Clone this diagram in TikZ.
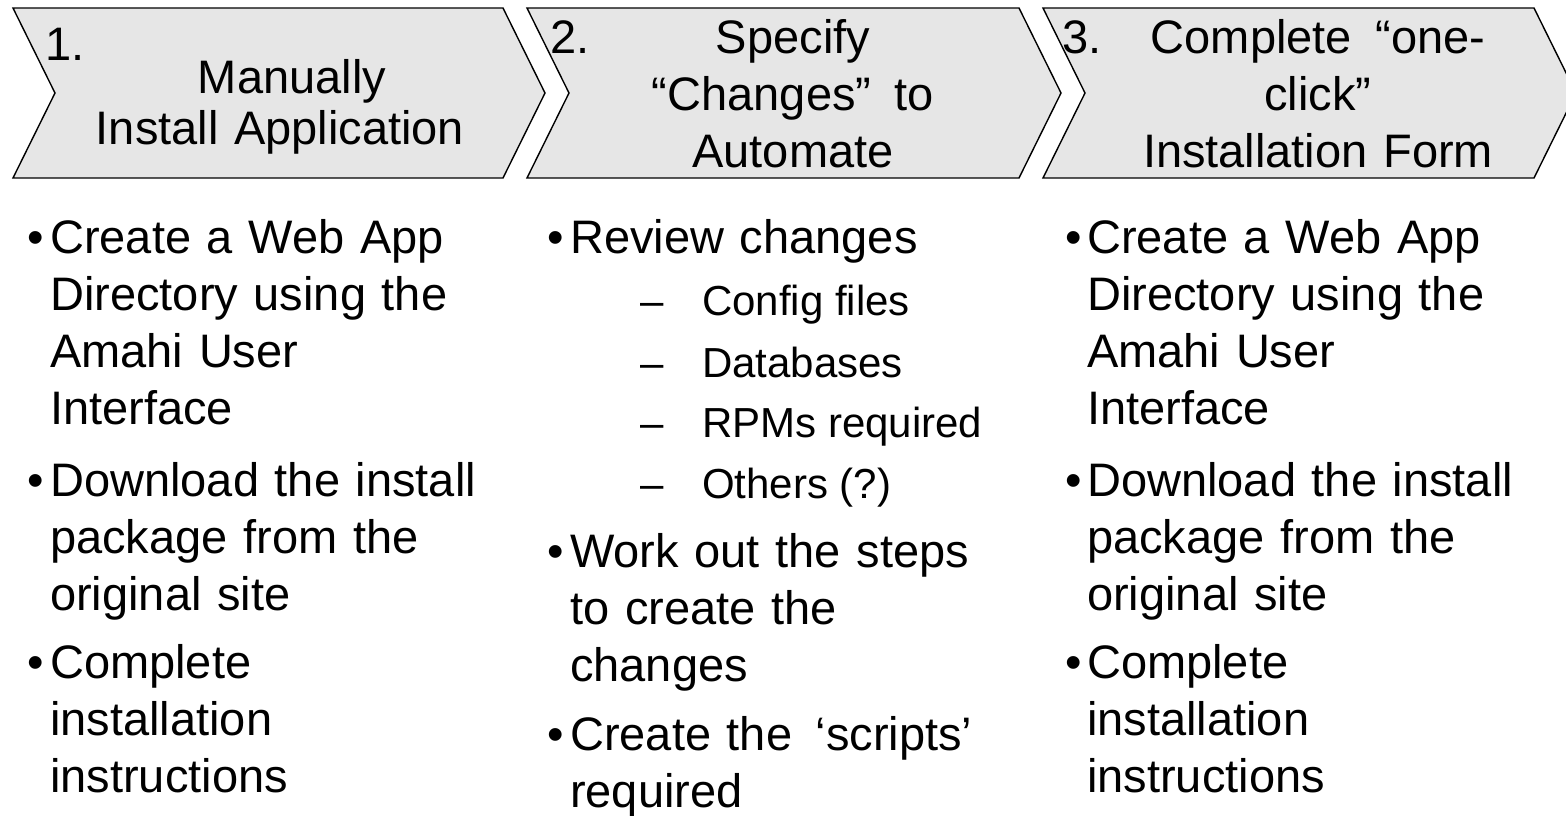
\documentclass[tikz,border=0pt]{standalone}
\usepackage{fontspec}
\setmainfont{Liberation Sans}
\usetikzlibrary{positioning}

\definecolor{chevgray}{HTML}{E6E6E6}

\tikzset{
	chevron/.style={fill=chevgray, draw=black, line width=1.4pt, line join=miter},
	steplabel/.style={anchor=base west, inner sep=0pt, font=\fontsize{47}{55}\selectfont},
	steptext/.style={anchor=base, inner sep=0pt, text width=470pt, align=center, font=\fontsize{47}{57}\selectfont},
	dot/.style={anchor=base west, inner sep=0pt},
	item/.style={anchor=base west, inner sep=0pt, text width=460pt, align=left, font=\fontsize{47}{57}\selectfont},
	subdash/.style={anchor=base west, inner sep=0pt, font=\fontsize{42}{61}\selectfont},
	subitem/.style={anchor=base west, inner sep=0pt, font=\fontsize{42}{61}\selectfont}
}

\begin{document}
\begin{tikzpicture}[x=1pt, y=-1pt, font=\fontsize{47}{57}\selectfont]
	
	% --- Page frame (1566 x 815 units, y runs downwards) ---
	\useasboundingbox (0,0) rectangle (1566,815);
	
	% --- The three step chevrons ---
	% Each chevron: body from \xl to \xr, notch on the left, tip on the right.
	\def\chevTop{8}
	\def\chevBot{178}
	\def\chevMid{93}
	\def\chevTip{42} % depth of tip and notch
	\foreach \xl/\xr in {13/503, 527/1019, 1043/1534} {
		\filldraw[chevron] (\xl,\chevTop) -- (\xr,\chevTop) -- (\xr+\chevTip,\chevMid)
		-- (\xr,\chevBot) -- (\xl,\chevBot) -- (\xl+\chevTip,\chevMid) -- cycle;
	}
	
	% Step numbers and titles
	\node[steplabel] (num1) at (45,60) {1.};
	\node[steptext] (step1a) at (292,93) {Manually};
	\node[steptext] (step1b) at (280,144) {Install Application};
	
	\node[steplabel] (num2) at (550,53) {2.};
	\node[steptext] (step2) at (793,53) {Specify\\“Changes”\, to\\Automate};
	
	\node[steplabel] (num3) at (1062,53) {3.};
	\node[steptext] (step3) at (1318,53) {Complete \,“one-\\click”\\Installation Form};
	
	% --- Bullet lists under steps 1 and 3 (same text) ---
	\foreach \col/\bx/\tx in {1/27/50, 3/1065/1087} {
		\node[dot] (dot\col a) at (\bx,253) {•};
		\node[item] (item\col a) at (\tx,253) {Create a Web App\\Directory using the\\Amahi User\\Interface};
		
		\node[dot] (dot\col b) at (\bx,496) {•};
		\node[item] (item\col b) at (\tx,496) {Download the install\\package from the\\original site};
		
		\node[dot] (dot\col c) at (\bx,678) {•};
		\node[item] (item\col c) at (\tx,678) {Complete\\installation\\instructions};
	}
	
	% --- Bullet list under step 2 ---
	\node[dot] (dot2a) at (547,253) {•};
	\node[item] (item2a) at (570,253) {Review changes};
	
	% sub-items of "Review changes"
	\foreach \n/\y/\txt in {1/315/Config files, 2/377/Databases, 3/437/RPMs required, 4/498/Others (?)} {
		\node[subdash] (dash\n) at (640,\y) {–};
		\node[subitem] (sub\n) at (702,\y) {\txt};
	}
	
	\node[dot] (dot2b) at (547,567) {•};
	\node[item] (item2b) at (570,567) {Work out the steps\\to create the\\changes};
	
	\node[dot] (dot2c) at (547,750) {•};
	\node[item] (item2c) at (570,750) {Create the \,‘scripts’\\required};
	
\end{tikzpicture}
\end{document}
